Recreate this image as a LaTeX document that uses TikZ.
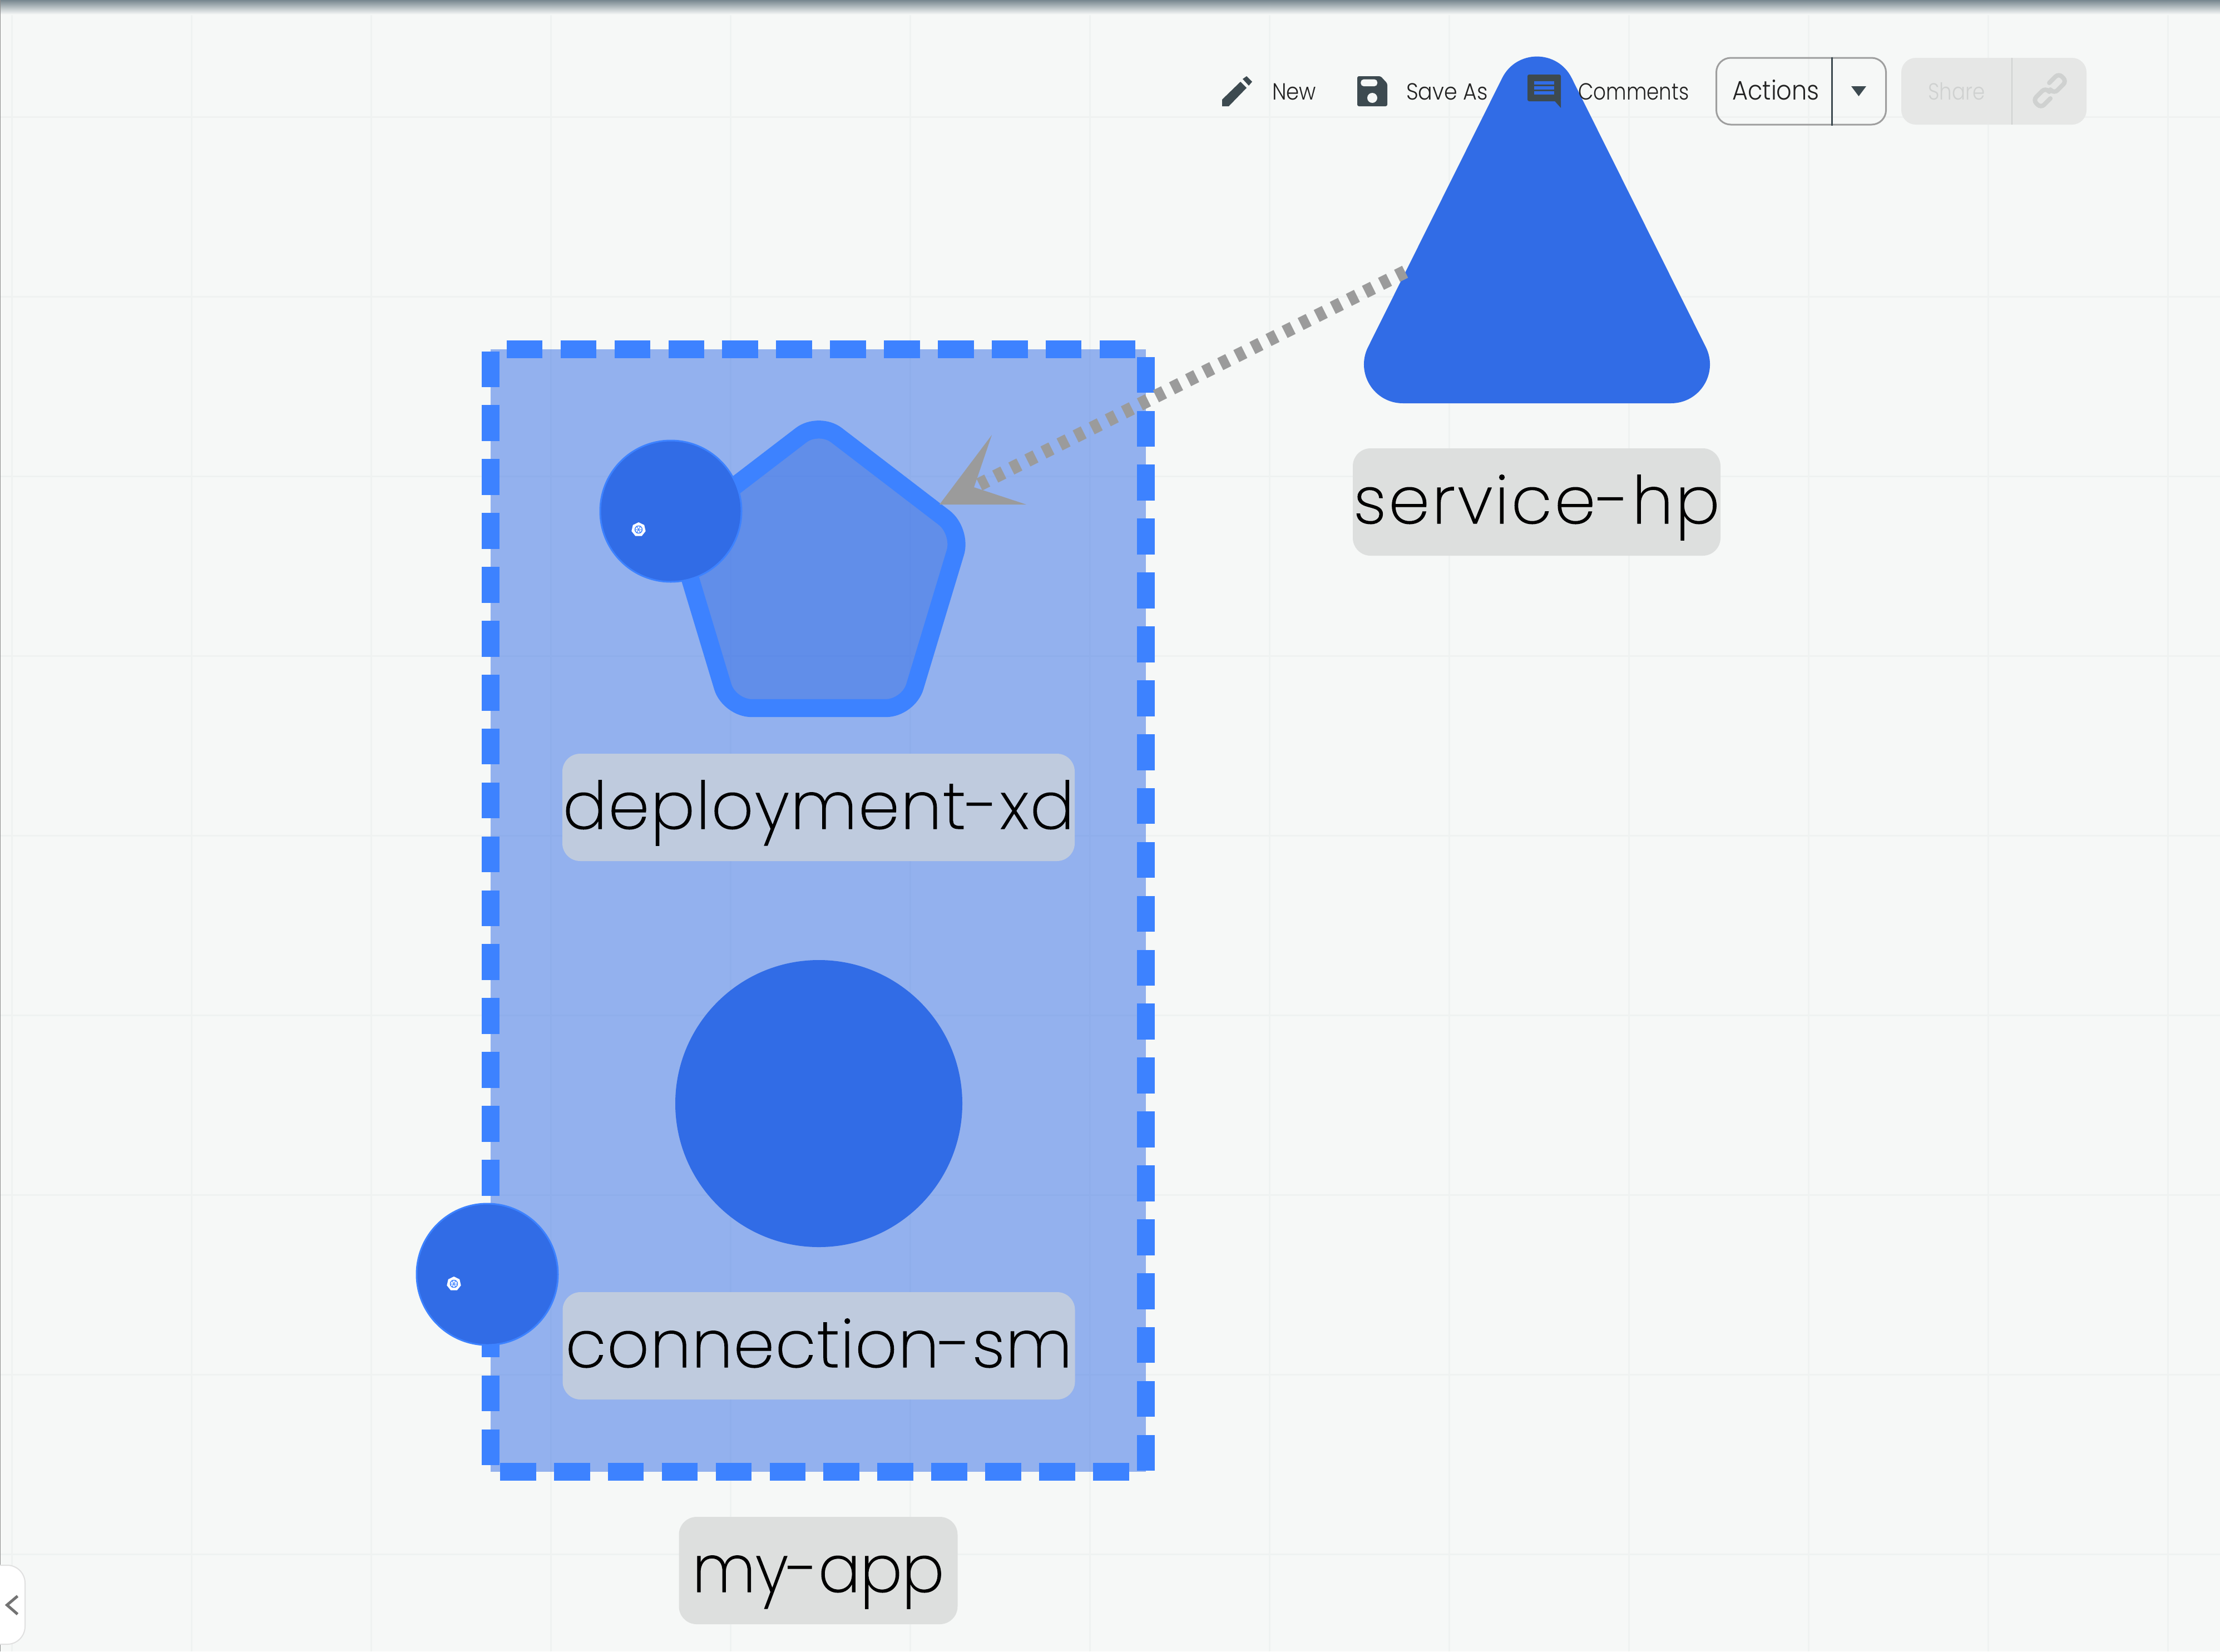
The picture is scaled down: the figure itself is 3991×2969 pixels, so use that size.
\documentclass[tikz,border=0pt]{standalone}
\usepackage{fontspec}
\setmainfont{Poppins}
\newfontfamily\lightfont{Poppins Light}
\newfontfamily\thinfont[FakeBold=1]{Poppins ExtraLight}
\usetikzlibrary{shapes.geometric, positioning}

\definecolor{canvasgray}{HTML}{F6F8F7}
\definecolor{gridgray}{HTML}{EFF2F1}
\definecolor{topgray}{HTML}{76868E}
\definecolor{nodeblue}{HTML}{316CE6}
\definecolor{edgeblue}{HTML}{3D82FF}
\definecolor{flowgray}{HTML}{9B9B9B}
\definecolor{tagoutgray}{HTML}{DDDFDE}
\definecolor{taginblue}{HTML}{BFCBDE}
\definecolor{icongray}{HTML}{3D4A50}
\definecolor{btngray}{HTML}{9E9E9E}
\definecolor{sharegray}{HTML}{E6E7E6}
\definecolor{sharetext}{HTML}{CFD1D0}
\definecolor{tooltext}{HTML}{222222}

\begin{document}
\begin{tikzpicture}[x=1pt, y=-1pt]
    \tikzset{
        appbox/.style = {rectangle, draw=edgeblue, fill=nodeblue, fill opacity=0.5, draw opacity=1, line width=32.3pt, dash pattern=on 64.6pt off 32.3pt, dash phase=79.9pt, outer sep=0pt, inner sep=0pt, minimum width=1178pt, minimum height=2018pt},
        bigdot/.style = {circle, fill=nodeblue, inner sep=0pt, outer sep=0pt, minimum size=516pt},
        smalldot/.style = {circle, fill=nodeblue, draw=edgeblue, line width=3pt, inner sep=0pt, outer sep=0pt, minimum size=254pt},
        helm/.style = {regular polygon, regular polygon sides=7, fill=white, inner sep=0pt, minimum size=26pt},
        hub/.style = {circle, draw=edgeblue, line width=1.5pt, inner sep=0pt, minimum size=13pt},
        tagbox/.style = {rectangle, rounded corners=32pt, inner sep=0pt, outer sep=0pt, minimum height=193pt, text height=100pt, text depth=23pt, align=center, text=black},
        tagtext/.style = {font=\thinfont\fontsize{118}{118}\selectfont},
        tooltxt/.style = {inner sep=0pt, anchor=base west, text=tooltext, font=\lightfont\fontsize{42}{42}\selectfont},
        flowline/.style = {draw=flowgray, line width=24pt, dash pattern=on 16.15pt off 16.15pt},
        gridline/.style = {draw=gridgray, line width=3pt},
    }

    % canvas
    \useasboundingbox (0,0) rectangle (3991,2969);
    \fill[canvasgray] (0,0) rectangle (3991,2969);
    \foreach \gx in {21,344,667,990,1313,1636,1959,2282,2605,2928,3251,3574,3897}
        \draw[gridline] (\gx,0) -- (\gx,2969);
    \foreach \gy in {210,533,856,1179,1502,1825,2148,2471,2794}
        \draw[gridline] (0,\gy) -- (3991,\gy);
    \shade[top color=topgray, bottom color=canvasgray] (0,0) rectangle (3991,26);
    \draw[color=black!45, line width=2pt] (0,0) -- (0,2969);

    % the app group
    \node[appbox](app) at (1471,1637){};
    \node[tagbox, tagtext, fill=tagoutgray, minimum width=501pt](appname)[below = 81pt of app]{\addfontfeature{FakeStretch=0.95}my-app};

    % deployment
    \draw[draw=edgeblue, fill=nodeblue, fill opacity=0.5, draw opacity=1, line width=32.3pt, rounded corners=40pt]
        (1472,1273) -- (1311,1273) -- (1215,955) -- (1472,758) -- (1729,955) -- (1633,1273) -- cycle;
    \node[smalldot](deploydot) at (1206,919){};
    \node[tagbox, tagtext, fill=taginblue, minimum width=921pt](deployname) at (1471.5,1451.5){\addfontfeature{LetterSpace=2.0}deployment-xd};

    % connection
    \node[bigdot](connection) at (1472,1984){};
    \node[tagbox, tagtext, fill=taginblue, minimum width=921pt](connname)[below = 81pt of connection]{\addfontfeature{LetterSpace=1.2}connection-sm};
    \node[smalldot](conndot) at (876,2291){};

    % small wheel marks on the two dots
    \foreach \wname/\wx/\wy in {deploywheel/1148/952, connwheel/816/2308}{
        \node[helm](\wname) at (\wx,\wy){};
        \node[hub](\wname hub) at (\wx,\wy){};
        \foreach \wa in {0,60,...,300}
            \draw[edgeblue, line width=1pt] (\wname hub.center) -- (\wname hub.\wa);
    }

    % service
    \fill[nodeblue] (2700.5,140.3) .. controls (2726.2,88.7) and (2799.8,88.7) .. (2825.5,140.3)
        -- (3066.6,623.9) .. controls (3089.8,670.4) and (3056,725) .. (3004,725)
        -- (2522,725) .. controls (2470,725) and (2436.2,670.4) .. (2459.4,623.9) -- cycle;
    \node[tagbox, tagtext, fill=tagoutgray, minimum width=661pt](servicename) at (2762.5,902.5){\addfontfeature{LetterSpace=3.8}service-hp};

    % the flow from service to deployment
    \coordinate (flowstart) at (2526,488.6);
    \coordinate (flowend) at (1760.7,871);
    \coordinate (headtip) at (1689,907);
    \coordinate (headup) at (1783,782);
    \coordinate (headright) at (1845,907);
    \coordinate (headnotch) at (1751,876);
    \path [flowline] (flowstart) -- (flowend);
    \fill[flowgray] (headtip) -- (headup) -- (headnotch) -- (headright) -- cycle;

    % toolbar
    \fill[icongray] (2197,179) -- (2230,147) -- (2241,158) -- (2209,191) -- (2197,191) -- cycle;
    \fill[icongray] (2234,142) -- (2241,137) -- (2251,147) -- (2245,154) -- cycle;
    \node[tooltxt](newbtn) at (2287,179){\addfontfeature{FakeStretch=0.886}New};

    \fill[icongray, rounded corners=3pt] (2440,137) -- (2482,137) -- (2494,150) -- (2494,191) -- (2440,191) -- cycle;
    \fill[canvasgray, rounded corners=5pt] (2446.4,142.7) rectangle (2476,155);
    \fill[canvasgray] (2467,176) circle (9);
    \node[tooltxt](savebtn) at (2528,179){\addfontfeature{FakeStretch=0.906}Save As};

    \fill[icongray, rounded corners=3pt] (2746,134) -- (2806,134) -- (2806,182) -- (2746,182) -- cycle;
    \fill[icongray] (2793.5,180) -- (2806,180) -- (2806,194) -- cycle;
    \foreach \by in {146,155,164}
        \fill[nodeblue] (2758,\by) rectangle (2794,\by+6.2);
    \node[tooltxt](commentbtn) at (2837,179){\addfontfeature{FakeStretch=0.85}Comments};

    \node[rectangle, draw=btngray, line width=3pt, rounded corners=26pt, inner sep=0pt, minimum width=305pt, minimum height=120pt](actionbtn) at (3238,164){};
    \node[tooltxt, font=\lightfont\fontsize{48}{48}\selectfont](actiontxt) at (3114,179){\addfontfeature{FakeStretch=0.897}Actions};
    \draw[icongray, line width=3pt] (actionbtn.north -| 3293,0) -- (actionbtn.south -| 3293,0);
    \fill[icongray] (3328,155) -- (3355,155) -- (3341.5,173) -- cycle;

    \node[rectangle, fill=sharegray, rounded corners=26pt, inner sep=0pt, minimum width=333pt, minimum height=120pt](sharebtn) at (3584.5,164){};
    \node[tooltxt, text=sharetext](sharetxt) at (3466,179){\addfontfeature{FakeStretch=0.85}Share};
    \draw[sharetext, line width=2.5pt] (sharebtn.north -| 3617,0) -- (sharebtn.south -| 3617,0);
    \draw[sharetext, line width=8pt, rounded corners=8pt, line cap=round] (3684,149) -- (3701,132) -- (3715,146) -- (3693,168) -- (3686,161);
    \draw[sharetext, line width=8pt, rounded corners=8pt, line cap=round] (3686,177) -- (3669,194) -- (3655,180) -- (3677,158) -- (3684,165);

    % collapse tab
    \fill[white, draw=black!12, line width=2pt, rounded corners=32pt] (-40,2814) rectangle (45,2956);
    \draw[color=black!55, line width=5pt] (31.6,2869.4) -- (12.6,2885.5) -- (31.6,2902);
\end{tikzpicture}
\end{document}
